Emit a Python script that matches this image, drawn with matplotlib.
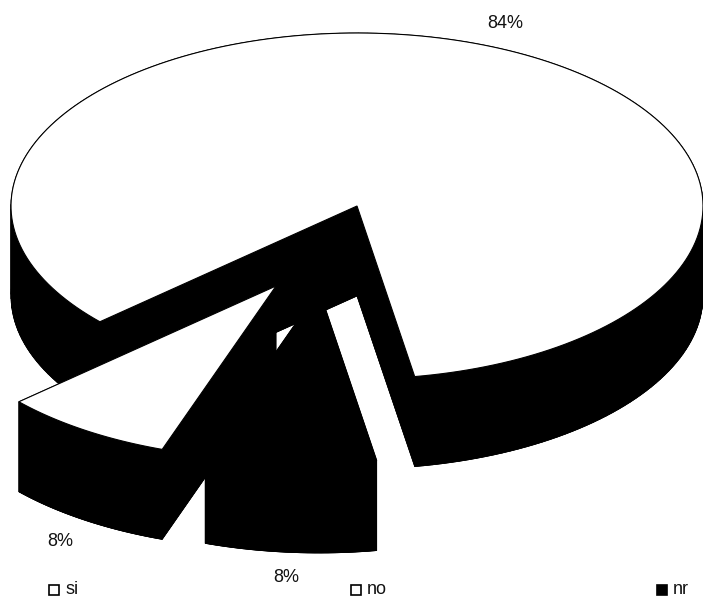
#!/usr/bin/python3
# -*- coding: utf-8 -*-
import numpy as np
import matplotlib
matplotlib.use("Agg")
import matplotlib.pyplot as plt
from matplotlib.patches import Polygon, Rectangle

plt.rcParams['font.family'] = ['Liberation Sans', 'DejaVu Sans']

labels = ["si", "no", "nr"]
values = [8, 84, 8]
pct_labels = ["8%", "84%", "8%"]
fills = ["white", "white", "black"]

# ===== pie geometry (pixels of the 703x600 picture) =====
cx, cy = 357, 206
rx, ry = 346, 173
depth = 90
start = 222.0  # si starts here and runs to the right, no goes the long way round
offsets = {"si": (-81, 80), "no": (0, 0), "nr": (-38, 84)}
label_pos = {"si": (60, 541), "no": (505, 23), "nr": (286, 577)}
legend_x = {"si": 54, "no": 356, "nr": 662}
legend_y = 590


def sector(a0, a1, dx, dy):
    t = np.radians(np.linspace(a0, a1, 200))
    xs = cx + dx + rx * np.cos(t)
    ys = cy + dy - ry * np.sin(t)
    return np.column_stack([np.r_[cx + dx, xs], np.r_[cy + dy, ys]])


def draw_slice(ax, a0, a1, dx, dy, face, z):
    top = sector(a0, a1, dx, dy)
    bottom = top + [0, depth]
    ax.add_patch(Polygon(bottom, closed=True, fc="black", ec="black", lw=0.5, zorder=z))
    # side walls
    n = len(top)
    for i in range(n):
        j = (i + 1) % n
        quad = [top[i], top[j], bottom[j], bottom[i]]
        ax.add_patch(Polygon(quad, closed=True, fc="black", ec="black", lw=0.5, zorder=z))
    ax.add_patch(Polygon(top, closed=True, fc=face, ec="black", lw=0.8, zorder=z + 0.5))


fig = plt.figure(figsize=(7.03, 6.0), dpi=100, facecolor="white")
ax = fig.add_axes([0, 0, 1, 1])
ax.set_xlim(0, 703)
ax.set_ylim(600, 0)
ax.axis("off")

# ===== slices, angles follow from the values =====
spans = np.array(values) / sum(values) * 360
angle_si = (start, start + spans[0])
angle_nr = (angle_si[1], angle_si[1] + spans[2])
angle_no = (angle_nr[1], angle_nr[1] + spans[1])

draw_slice(ax, angle_no[0], angle_no[1], *offsets["no"], fills[1], 1)
draw_slice(ax, angle_si[0], angle_si[1], *offsets["si"], fills[0], 2)
draw_slice(ax, angle_nr[0], angle_nr[1], *offsets["nr"], fills[2], 3)

# ===== percent labels and legend =====
for name, pct in zip(labels, pct_labels):
    x, y = label_pos[name]
    ax.text(x, y, pct, fontsize=13, ha="center", va="center", color="#111111")

for name, face in zip(labels, fills):
    x = legend_x[name]
    ax.add_patch(Rectangle((x - 5, legend_y - 5), 10, 10, fc=face, ec="black", lw=1.2))
    ax.text(x + 11, legend_y, name, fontsize=13, ha="left", va="center", color="#111111")

fig.savefig("out.png", dpi=100)
